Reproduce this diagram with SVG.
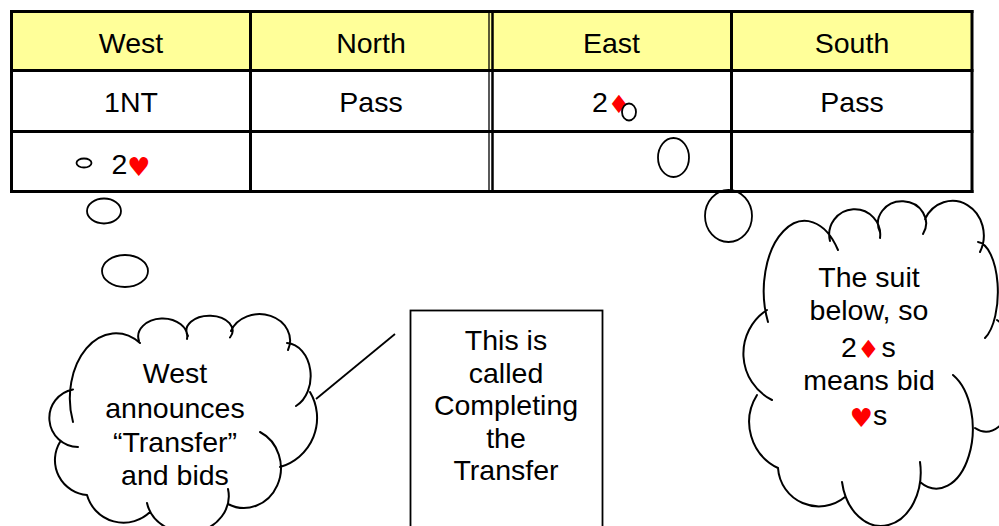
<svg xmlns="http://www.w3.org/2000/svg" width="999" height="526" viewBox="0 0 999 526">
<style>
.t{font-family:"Liberation Sans",Arial,sans-serif;font-size:28.5px;fill:#000;text-anchor:middle}
.s{font-family:"DejaVu Sans",sans-serif;fill:#FF0000;text-anchor:middle}
.ln{stroke:#000;stroke-width:3;fill:none}
.cl{fill:none;stroke:#000;stroke-width:2;stroke-linecap:round}
.bub{fill:#fff;stroke:#000;stroke-width:1.8}
</style>
<rect width="999" height="526" fill="#fff"/>
<g id="table">
<rect x="11.5" y="11.5" width="960.5" height="59" fill="#FFFF99"/>
<text class="t" x="131" y="53">West</text>
<text class="t" x="371" y="53">North</text>
<text class="t" x="611.5" y="53">East</text>
<text class="t" x="852" y="53">South</text>
<text class="t" x="131" y="112">1NT</text>
<text class="t" x="371" y="112">Pass</text>
<text class="t" x="600" y="112">2</text>
<text class="s" x="619" y="113" font-size="25">♦</text>
<text class="t" x="852" y="112">Pass</text>
<text class="t" x="119.5" y="174">2</text>
<text class="s" x="139" y="176" font-size="26">♥</text>
</g>
<g id="bubbles">
<ellipse class="bub" cx="84" cy="163" rx="7.5" ry="4.5"/>
<ellipse class="bub" cx="104" cy="211" rx="17" ry="12.5"/>
<ellipse class="bub" cx="125" cy="271" rx="23" ry="16"/>
<ellipse class="bub" cx="629" cy="112" rx="7" ry="8.5"/>
<ellipse class="bub" cx="673.5" cy="157.5" rx="15.5" ry="19.5"/>
<ellipse class="bub" cx="728.5" cy="216" rx="23.5" ry="26"/>
</g>
<g id="table-lines">
<line class="ln" x1="10" y1="11.5" x2="973.5" y2="11.5"/>
<line class="ln" x1="10" y1="70.5" x2="973.5" y2="70.5"/>
<line class="ln" x1="10" y1="131.5" x2="973.5" y2="131.5"/>
<line class="ln" x1="10" y1="191.5" x2="973.5" y2="191.5"/>
<line class="ln" x1="11.5" y1="10" x2="11.5" y2="193"/>
<line class="ln" x1="250.5" y1="10" x2="250.5" y2="193"/>
<line stroke="#000" stroke-width="1.3" x1="489" y1="10" x2="489" y2="193"/>
<line stroke="#000" stroke-width="2.5" x1="492.5" y1="10" x2="492.5" y2="193"/>
<line class="ln" x1="731.5" y1="10" x2="731.5" y2="193"/>
<line class="ln" x1="972" y1="10" x2="972" y2="193"/>
</g>
<g id="connectors">
<line x1="316" y1="399" x2="395" y2="334" stroke="#000" stroke-width="1.8"/>
</g>
<g id="cloud-west">
<path class="cl" d="M78,447 A29,29 0 0 1 73,389.5 M73,422 A46,65 0 0 1 140,343 M139,341 A24.5,18 0 1 1 187,339 M188,336 A23,15 0 1 1 230,337.5 M231,331 A29,25 0 1 1 288,350 M287,343 A25,33 0 0 1 296,406 M310,392 A51,51 0 0 1 280,467 M260,432 A36,39 0 1 1 228,504 M228,489 A40.5,36 0 1 1 147,503 M150,512 A38,38 0 0 1 87,495 M87,495 A35,35 0 0 1 60,442"/>
<text class="t" x="175" y="383">West</text>
<text class="t" x="175" y="418">announces</text>
<text class="t" x="175" y="451.5">“Transfer”</text>
<text class="t" x="175" y="485">and bids</text>
</g>
<g id="box">
<rect x="410.5" y="310.5" width="192" height="240" fill="#fff" stroke="#000" stroke-width="1.8"/>
<text class="t" x="506" y="349.5">This is</text>
<text class="t" x="506" y="382.5">called</text>
<text class="t" x="506" y="415">Completing</text>
<text class="t" x="506" y="447.5">the</text>
<text class="t" x="506" y="480">Transfer</text>
</g>
<g id="cloud-east">
<path class="cl" d="M772,400 A52,52 0 0 1 767,310 M768,322 A41,70 0 0 1 838,250 M830,241 A25.5,25.5 0 1 1 880,238 M880,232 A24,22 0 1 1 923,234 M925,219 A28,31 0 1 1 980,252 M978,242 A21,50 0 0 1 985,338 M997,320 A30,55 0 0 1 975,428 M953,375 A35,58 0 1 1 920,482 M920,462 A39,53 0 1 1 842,482 M845,497 A41,41 0 0 1 778,468 M778,468 A51,51 0 0 1 757,395"/>
<text class="t" x="869" y="287">The suit</text>
<text class="t" x="869" y="320">below, so</text>
<text class="t" x="849" y="356.5">2</text>
<text class="s" x="868.5" y="358" font-size="25">♦</text>
<text class="t" x="888.5" y="356.5">s</text>
<text class="t" x="869" y="390">means bid</text>
<text class="s" x="861.5" y="427" font-size="26">♥</text>
<text class="t" x="880" y="425">s</text>
</g>
</svg>
